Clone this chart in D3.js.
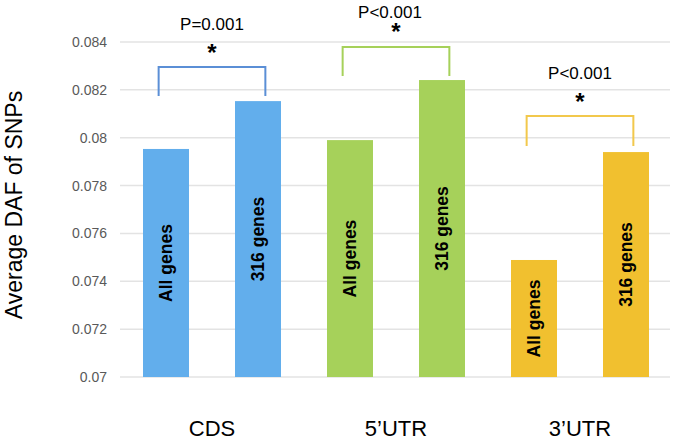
<!DOCTYPE html>
<html>
<head>
<meta charset="utf-8">
<script src="https://cdn.jsdelivr.net/npm/d3@7"></script>
<style>
  body { margin: 0; background: #fff; }
  text { font-family: "Liberation Sans", Arial, sans-serif; }
</style>
</head>
<body>
<script>
  // data
  const groups = ["CDS", "5\u2019UTR", "3\u2019UTR"];
  const barLabels = ["All genes", "316 genes"];
  const allGenes = [0.07953, 0.0799, 0.07489];
  const genes316 = [0.08153, 0.08241, 0.0794];
  const yTicks = [0.07, 0.072, 0.074, 0.076, 0.078, 0.08, 0.082, 0.084];
  const pLabels = ["P=0.001", "P<0.001", "P<0.001"];
  const bracketTop = [0.08296, 0.08379, 0.08091];
  const bracketBottom = [0.08174, 0.08258, 0.07965];
  const fills = ["#62aeec", "#a6d15a", "#f1c02f"];
  const strokes = ["#5b8fd6", "#a6d15a", "#f2c84c"];

  const width = 675, height = 442;

  const svg = d3.select("body").append("svg")
    .attr("width", width)
    .attr("height", height);

  // one entry per bar
  let bars = [];
  groups.forEach((g, i) => {
    bars.push({ group: g, gi: i, label: barLabels[0], value: allGenes[i], key: g + "-0" });
    bars.push({ group: g, gi: i, label: barLabels[1], value: genes316[i], key: g + "-1" });
  });

  let x = d3.scaleBand()
    .domain(bars.map((d) => d.key))
    .range([120, 672])
    .paddingInner(0.5)
    .paddingOuter(0.25);

  let y = d3.scaleLinear()
    .domain([0.07, 0.084])
    .range([377, 42]);

  // grid lines
  svg.append("g")
    .selectAll("line")
    .data(yTicks)
    .enter()
    .append("line")
      .attr("x1", 120)
      .attr("x2", 670)
      .attr("y1", (d) => y(d))
      .attr("y2", (d) => y(d))
      .attr("stroke", "#e3e3e3")
      .attr("stroke-width", 1.5);

  // y axis labels
  let yAxis = d3.axisLeft(y)
    .tickValues(yTicks)
    .tickFormat((d) => d3.format("")(+d.toFixed(3)))
    .tickSize(0)
    .tickPadding(13);
  let yg = svg.append("g")
    .attr("transform", "translate(120, 0)")
    .call(yAxis);
  yg.select(".domain").remove();
  yg.selectAll("text")
    .style("font-size", "14px")
    .style("font-family", "'Liberation Sans', Arial, sans-serif")
    .attr("fill", "#595959");

  // bars
  svg.append("g")
    .selectAll("rect")
    .data(bars)
    .enter()
    .append("rect")
      .attr("x", (d) => x(d.key))
      .attr("y", (d) => y(d.value))
      .attr("width", x.bandwidth())
      .attr("height", (d) => y(0.07) - y(d.value))
      .attr("fill", (d) => fills[d.gi]);

  // rotated labels in the bars
  svg.append("g")
    .selectAll("text")
    .data(bars)
    .enter()
    .append("text")
      .attr("transform", (d) => {
        let cx = x(d.key) + x.bandwidth() / 2;
        let cy = (y(d.value) + y(0.07)) / 2;
        return "translate(" + cx + "," + cy + ")rotate(-90)";
      })
      .attr("text-anchor", "middle")
      .attr("dy", "0.36em")
      .style("font-size", "17.5px")
      .style("font-weight", "bold")
      .attr("fill", "#000")
      .text((d) => d.label);

  // significance brackets
  groups.forEach((g, i) => {
    let off = x.bandwidth() * 0.16;
    let x1 = x(g + "-0") + x.bandwidth() / 2 - off;
    let x2 = x(g + "-1") + x.bandwidth() / 2 + off;
    let yt = y(bracketTop[i]);
    let yb = y(bracketBottom[i]);
    svg.append("path")
      .attr("d", "M" + x1 + "," + yb + "V" + yt + "H" + x2 + "V" + yb)
      .attr("fill", "none")
      .attr("stroke", strokes[i])
      .attr("stroke-width", 2);

    let mid = (x1 + x2) / 2;
    // star sits just above the bracket
    svg.append("text")
      .attr("x", mid)
      .attr("y", i == 1 ? yt - 7 : yt - 6)
      .attr("text-anchor", "middle")
      .style("font-size", "24px")
      .style("font-weight", "bold")
      .text("*");
    svg.append("text")
      .attr("x", i == 1 ? mid - 6 : mid)
      .attr("y", i == 1 ? yt - 29 : yt - 37)
      .attr("text-anchor", "middle")
      .style("font-size", "17px")
      .attr("fill", "#000")
      .text(pLabels[i]);
  });

  // group labels under the axis
  svg.append("g")
    .selectAll("text")
    .data(groups)
    .enter()
    .append("text")
      .attr("x", (d) => (x(d + "-0") + x(d + "-1") + x.bandwidth()) / 2)
      .attr("y", 436)
      .attr("text-anchor", "middle")
      .style("font-size", "22px")
      .attr("fill", "#000")
      .text((d) => d);

  // y axis title
  svg.append("text")
    .attr("transform", "translate(22, 205)rotate(-90)")
    .attr("text-anchor", "middle")
    .style("font-size", "23px")
    .attr("fill", "#000")
    .text("Average DAF of SNPs");
</script>
</body>
</html>
